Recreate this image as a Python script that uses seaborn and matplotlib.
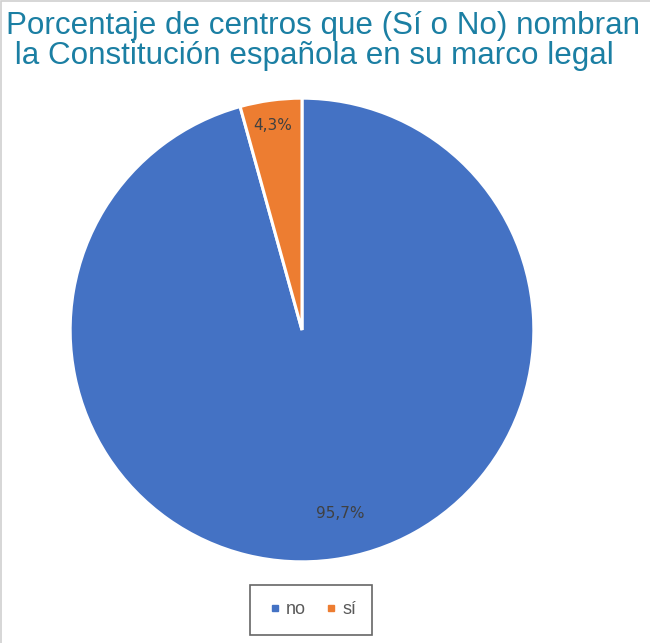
import matplotlib
matplotlib.use("Agg")
import matplotlib.pyplot as plt
import numpy as np
import seaborn as sns
from matplotlib.patches import Rectangle

sns.set_theme(style="white")
plt.rcParams["font.family"] = ["Liberation Sans", "DejaVu Sans"]

categories = ["no", "sí"]
values = [95.7, 4.3]
labels = ["95,7%", "4,3%"]
colors = ["#4472C4", "#ED7D31"]
# label placement (distance from centre as fraction of radius, angle shift in degrees)
label_dist = [0.81, 0.89]
label_shift = [4.0, 0.5]

fig = plt.figure(figsize=(6.5, 6.43), dpi=100)
fig.patch.set_facecolor("white")
fig.add_artist(Rectangle((0.002, -0.01), 1.05, 1.008, transform=fig.transFigure,
                         fill=False, edgecolor="#d0d0d0", linewidth=1.2))

fig.text(0.010, 0.983, "Porcentaje de centros que (Sí o No) nombran\n la Constitución española en su marco legal",
         ha="left", va="top", fontsize=22.6, color="#1B7FA3", linespacing=1.0)

ax = fig.add_axes([69 / 650, 80 / 643, 466 / 650, 466 / 643])
wedges, _ = ax.pie(values, colors=colors, startangle=90, counterclock=False,
                   wedgeprops=dict(edgecolor="white", linewidth=2.2))
ax.set_xlim(-1.005, 1.005)
ax.set_ylim(-1.005, 1.005)
ax.set_aspect("equal")

for w, lab, d, s in zip(wedges, labels, label_dist, label_shift):
    ang = np.deg2rad((w.theta1 + w.theta2) / 2 + s)
    ax.text(d * np.cos(ang), d * np.sin(ang), lab, ha="center", va="center",
            fontsize=11, color="#404040", family=["DejaVu Sans"])

handles = [plt.Line2D([], [], marker="s", linestyle="", markersize=4.5, color=c) for c in colors]
leg = fig.legend(handles, categories, loc="center", bbox_to_anchor=(311 / 650, 1 - 610 / 643),
                 ncol=2, frameon=True, fontsize=13, handletextpad=0.1, columnspacing=0.9,
                 handlelength=1.0, borderpad=0.9, fancybox=False)
leg.get_frame().set_edgecolor("#404040")
leg.get_frame().set_linewidth(1.2)
for t in leg.get_texts():
    t.set_color("#595959")

fig.savefig("out.png", dpi=100)
